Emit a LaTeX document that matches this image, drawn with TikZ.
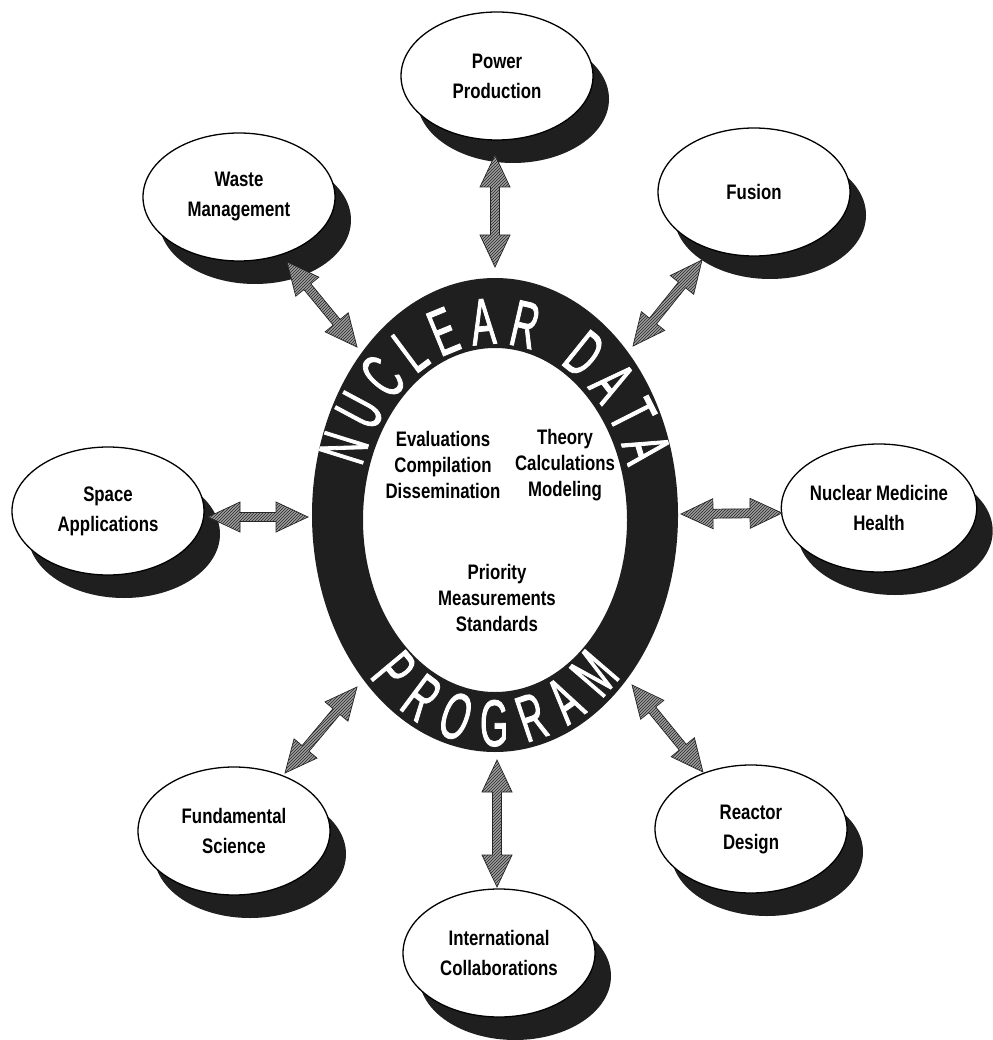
\documentclass[tikz,border=0pt]{standalone}
\usepackage{fontspec}
\newfontfamily\condb{Liberation Sans}[FakeStretch=0.8]
\newfontfamily\ringfont{Liberation Sans}[FakeStretch=0.55,FakeBold=1.2]
\usetikzlibrary{shapes.geometric,shadows,calc,decorations.text,patterns}
\tikzset{
  bub/.style={ellipse, draw, line width=1.3pt, fill=white,
    minimum width=192pt, minimum height=128pt, inner sep=0pt, align=center,
    font=\condb\bfseries\fontsize{21}{30}\selectfont,
    drop shadow={shadow xshift=16pt, shadow yshift=-23pt, opacity=1, fill=black!88}},
  inner/.style={align=center, font=\condb\bfseries\fontsize{21}{26}\selectfont},
  arrowfill/.style={fill=black!38, draw=black!85, line width=0.7pt, line join=miter,
    postaction={pattern=north east lines, pattern color=black!85}},
}
\newcommand\dblarr[2]{%
  \path[arrowfill] (#1)
   -- ($(#1)!32pt!(#2)!15pt!90:(#2)$)
   -- ($(#1)!32pt!(#2)!4.5pt!90:(#2)$)
   -- ($(#2)!32pt!(#1)!4.5pt!-90:(#1)$)
   -- ($(#2)!32pt!(#1)!15pt!-90:(#1)$)
   -- (#2)
   -- ($(#2)!32pt!(#1)!15pt!90:(#1)$)
   -- ($(#2)!32pt!(#1)!4.5pt!90:(#1)$)
   -- ($(#1)!32pt!(#2)!4.5pt!-90:(#2)$)
   -- ($(#1)!32pt!(#2)!15pt!-90:(#2)$)
   -- cycle;}
\begin{document}
\begin{tikzpicture}[x=1pt,y=1pt]
\useasboundingbox (0,0) rectangle (992,-1040);
% central ring
\fill[black!88, even odd rule] (495,-515) ellipse [x radius=183pt, y radius=237pt]
                               (495,-520) ellipse [x radius=132pt, y radius=172pt];
\path[decorate, decoration={text along path, text color=white, text align={fit to path},
   text={|\ringfont\fontsize{66}{66}\selectfont|NUCLEAR DATA}}]
   (495,-518) ++(163:139pt and 174pt) arc[start angle=163, end angle=17, x radius=139pt, y radius=174pt];
\path[decorate, decoration={text along path, text color=white, text align={fit to path},
   text={|\ringfont\fontsize{66}{66}\selectfont|PROGRAM}}]
   (495,-518) ++(224:175pt and 228pt) arc[start angle=224, end angle=316, x radius=175pt, y radius=228pt];
% inner texts
\node[inner] (ev) at (443,-465) {Evaluations\\Compilation\\Dissemination};
\node[inner] (th) at (565,-465) {Theory\\Calculations\\Modeling};
\node[inner] (pr) at (497,-598) {Priority\\Measurements\\Standards};
% satellites
\node[bub] (pp) at (497,-76) {Power\\Production};
\node[bub] (wm) at (239,-197) {Waste\\Management};
\node[bub] (fu) at (754,-192) {Fusion};
\node[bub] (sa) at (108,-511) {Space\\Applications};
\node[bub] (nm) at (879,-508) {Nuclear Medicine\\Health};
\node[bub] (fs) at (234,-831) {Fundamental\\Science};
\node[bub] (ic) at (499,-953) {International\\Collaborations};
\node[bub] (rd) at (751,-829) {Reactor\\Design};
% arrow end points
\coordinate (pp1) at (495,-155); \coordinate (pp2) at (495,-267);
\coordinate (fu1) at (702,-260); \coordinate (fu2) at (633,-346);
\coordinate (wm1) at (287,-262); \coordinate (wm2) at (357,-347);
\coordinate (sa1) at (208,-517); \coordinate (sa2) at (308,-517);
\coordinate (nm1) at (782,-513); \coordinate (nm2) at (681,-514);
\coordinate (fs1) at (285,-773); \coordinate (fs2) at (357,-687);
\coordinate (ic1) at (497,-887); \coordinate (ic2) at (497,-760);
\coordinate (rd1) at (703,-772); \coordinate (rd2) at (632,-685);
\dblarr{pp1}{pp2}
\dblarr{fu1}{fu2}
\dblarr{wm1}{wm2}
\dblarr{sa1}{sa2}
\dblarr{nm1}{nm2}
\dblarr{fs1}{fs2}
\dblarr{ic1}{ic2}
\dblarr{rd1}{rd2}
\end{tikzpicture}
\end{document}
